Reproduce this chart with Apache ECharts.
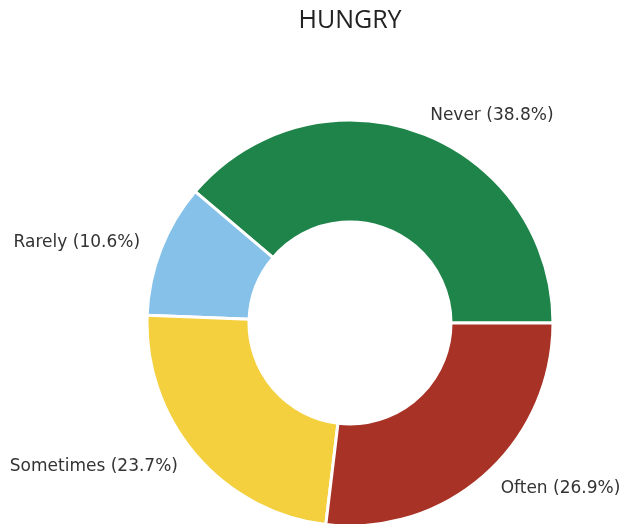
<!DOCTYPE html>
<html><head><meta charset="utf-8">
<script src="https://cdn.jsdelivr.net/npm/echarts@6/dist/echarts.min.js"></script>
<style>html,body{margin:0;padding:0;background:#fff}#c{width:629px;height:524px}</style>
</head><body><div id="c"></div>
<script>
const categories = ['Never', 'Rarely', 'Sometimes', 'Often'];
const values = [38.8, 10.6, 23.7, 26.9];
const colors = ['#1E8449', '#85C1E9', '#F4D03F', '#A93226'];
const chart = echarts.init(document.getElementById('c'));
chart.setOption({
  animation: false,
  title: { text: 'HUNGRY', left: 345, top: 3, textAlign: 'center',
    textStyle: { fontFamily: 'Open Sans', fontSize: 25, fontWeight: 'normal', color: '#222' } },
  series: [{
    type: 'pie',
    center: [350, 323],
    radius: [101, 203],
    startAngle: 0,
    clockwise: false,
    data: categories.map((c, i) => ({ name: c, value: values[i], itemStyle: { color: colors[i] } })),
    itemStyle: { borderColor: '#fff', borderWidth: 3 },
    label: { show: true, position: 'outside', formatter: p => p.name + ' (' + p.value.toFixed(1) + '%)',
      fontFamily: 'DejaVu Sans', fontSize: 17, color: '#333', distanceToLabelLine: 0,
      overflow: 'none', edgeDistance: 0 },
    labelLine: { show: false, length: 18, length2: 4 }
  }]
});
</script></body></html>
